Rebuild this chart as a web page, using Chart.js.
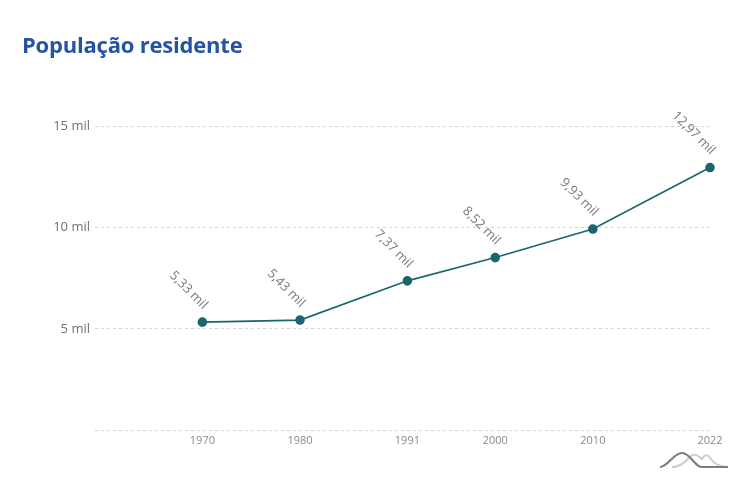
<!DOCTYPE html>
<html>
<head>
<meta charset="utf-8">
<script src="https://cdn.jsdelivr.net/npm/chart.js@4"></script>
<style>
  html, body { margin: 0; padding: 0; background: #fff; }
  #wrap { position: relative; width: 750px; height: 478px; }
  canvas { display: block; }
  h1 {
    position: absolute; left: 22px; top: 29px; margin: 0;
    font: 700 22px "Open Sans", sans-serif; color: #2653a4; letter-spacing: -0.2px;
  }
  #logo { position: absolute; left: 656px; top: 448px; }
</style>
</head>
<body>
<div id="wrap">
  <h1>População residente</h1>
  <canvas id="popChart" width="750" height="478"></canvas>
  <svg id="logo" width="76" height="24" viewBox="0 0 76 24">
    <path d="M16 19 C26 19 30 12 35 8 C40 5 42 8 46 11 C49 6 52 6 55 11 C59 17 64 19 72 19" fill="none" stroke="#cfcfcf" stroke-width="2.2"/>
    <path d="M4 19 C12 19 17 5 26 5 C35 5 38 19 46 19 L72 19" fill="none" stroke="#7d7d7d" stroke-width="2.2"/>
  </svg>
</div>
<script>
const years = [1970, 1980, 1991, 2000, 2010, 2022];
const population = [5.33, 5.43, 7.37, 8.52, 9.93, 12.97]; // thousands
const yTicks = [0, 5, 10, 15];

const fmt = v => v.toFixed(2).replace('.', ',') + ' mil';

// rotated value labels above each point
const valueLabels = {
    id: 'valueLabels',
    afterDatasetsDraw(chart) {
        const ctx = chart.ctx;
        const meta = chart.getDatasetMeta(0);
        ctx.save();
        ctx.font = '13px "Open Sans", sans-serif';
        ctx.fillStyle = '#7a7a7a';
        ctx.textAlign = 'right';
        ctx.textBaseline = 'middle';
        meta.data.forEach((pt, i) => {
            ctx.save();
            ctx.translate(pt.x + 3, pt.y - 15);
            ctx.rotate(Math.PI / 4);
            ctx.fillText(fmt(population[i]), 0, 0);
            ctx.restore();
        });
        ctx.restore();
    }
};

new Chart(document.getElementById('popChart'), {
    type: 'line',
    data: {
        datasets: [{
            data: years.map((y, i) => ({ x: y, y: population[i] })),
            borderColor: '#1c6470',
            backgroundColor: '#1c6470',
            borderWidth: 1.6,
            pointRadius: 4,
            pointHoverRadius: 4,
            tension: 0,
            clip: false
        }]
    },
    options: {
        responsive: false,
        animation: false,
        layout: { padding: { top: 86, right: 40, bottom: 28, left: 0 } },
        plugins: {
            legend: { display: false },
            tooltip: { enabled: false }
        },
        scales: {
            x: {
                type: 'linear',
                min: 1959,
                max: 2022,
                afterBuildTicks: scale => { scale.ticks = years.map(v => ({ value: v })); },
                afterFit: scale => { scale.height = 20; },
                grid: { display: false, drawTicks: false },
                border: { display: false },
                ticks: {
                    autoSkip: false,
                    maxRotation: 0,
                    padding: 4,
                    color: '#8a8a8a',
                    font: { family: '"Open Sans", sans-serif', size: 11 },
                    callback: v => String(v)
                }
            },
            y: {
                min: 0,
                max: 17,
                afterBuildTicks: scale => { scale.ticks = yTicks.map(v => ({ value: v })); },
                afterFit: scale => { scale.width = 95; },
                grid: { color: '#d4d4d4', drawTicks: false, lineWidth: 1 },
                border: { display: false, dash: [3, 3] },
                ticks: {
                    padding: 5,
                    color: '#707070',
                    font: { family: '"Open Sans", sans-serif', size: 13 },
                    callback: v => v === 0 ? '' : v + ' mil'
                }
            }
        }
    },
    plugins: [valueLabels]
});
</script>
</body>
</html>
